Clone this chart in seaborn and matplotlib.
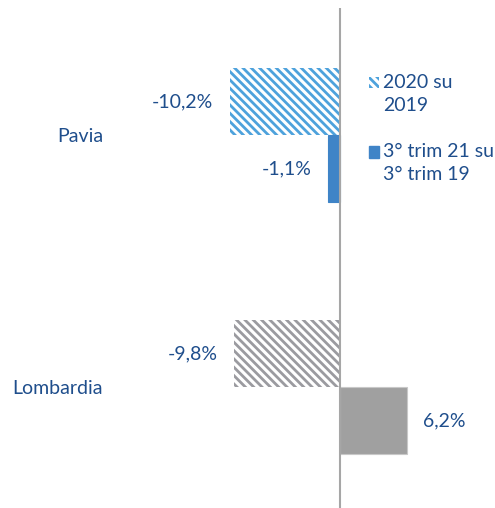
import matplotlib

matplotlib.use("Agg")
import matplotlib.pyplot as plt
import pandas as pd
import seaborn as sns
from matplotlib.legend_handler import HandlerPatch
from matplotlib.patches import Patch, Rectangle

regions = ["Pavia", "Lombardia"]
series = ["2020 su\n2019", "3° trim 21 su\n3° trim 19"]
var_2020 = [-10.2, -9.8]
var_q3 = [-1.1, 6.2]

TEXT = "#1F4E8C"
AXIS = "#A6A6A6"
# colours per series (rows) and region (columns)
bar_colors = [["#4EA2DC", "#9B9BA0"], ["#3F84C7", "#A0A0A0"]]
hatched = [True, False]
HATCH = "\\\\\\\\"

df = pd.DataFrame(
    {
        "region": regions * 2,
        "series": [series[0]] * 2 + [series[1]] * 2,
        "value": var_2020 + var_q3,
    }
)

sns.set_theme(style="white")
plt.rcParams["font.family"] = ["Lato", "DejaVu Sans"]
plt.rcParams["hatch.linewidth"] = 2.0

fig = plt.figure(figsize=(4.95, 5.08), dpi=100)
ax = fig.add_axes([221 / 495, 0.0, (426 - 221) / 495, 500 / 508])

sns.barplot(
    data=df, y="region", x="value", hue="series", hue_order=series,
    order=regions, orient="h", width=0.53, dodge=True, legend=False, ax=ax,
)

for si, cont in enumerate(ax.containers):
    for ri, bar in enumerate(cont):
        c = bar_colors[si][ri]
        if hatched[si]:
            bar.set_facecolor("white")
            bar.set_edgecolor(c)
            bar.set_hatch(HATCH)
            bar.set_linewidth(0)
        else:
            bar.set_facecolor(c)
            bar.set_edgecolor("#C8C8C8" if ri == 1 else c)
            bar.set_linewidth(0.8)
    ax.bar_label(
        cont, labels=[f"{v:.1f}%".replace(".", ",") for v in cont.datavalues],
        padding=12, color=TEXT, fontsize=14,
    )

ax.set_xlim(-11, 8)
ax.set_ylim(1.48, -0.504)
ax.axvline(0, color=AXIS, lw=1.5)
for s in ax.spines.values():
    s.set_visible(False)
ax.set_xticks([])
ax.set_xlabel("")
ax.set_ylabel("")
ax.tick_params(axis="y", length=0, pad=85, labelsize=14, labelcolor=TEXT)


def top_square(legend, orig_handle, xdescent, ydescent, width, height, fontsize):
    # put the marker next to the first line of the two-line label
    return Rectangle((-xdescent, -ydescent + 0.58 * fontsize), width, height)


handles = [
    Patch(facecolor="white", edgecolor=bar_colors[0][0], hatch=HATCH, linewidth=0),
    Patch(facecolor=bar_colors[1][0], edgecolor=bar_colors[1][0]),
]
leg = fig.legend(
    handles, series, loc="upper left", bbox_to_anchor=(351 / 495, 1 - 56 / 508),
    frameon=False, handlelength=0.55, handleheight=0.55, handletextpad=0.2,
    labelspacing=1.5, fontsize=14, labelcolor=TEXT,
    handler_map={Patch: HandlerPatch(patch_func=top_square)},
)
for t in leg.get_texts():
    t.set_linespacing(1.45)

fig.savefig("out.png", dpi=100, facecolor="white")
